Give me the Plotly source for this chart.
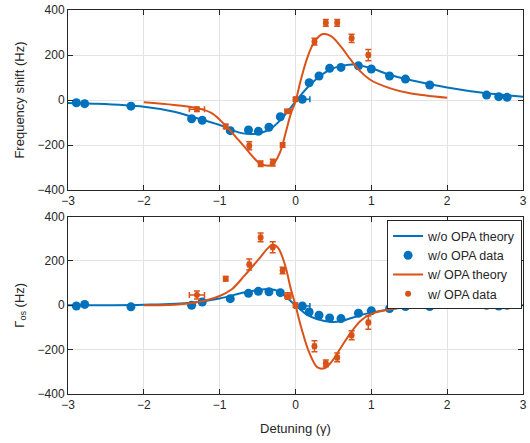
import plotly.graph_objects as go
from plotly.subplots import make_subplots

BLUE = "#0072BD"
ORANGE = "#D95319"

# ---- theory curves ----
th_wo_x = [-3, -2.67, -2, -1.6, -1.37, -1, -0.8, -0.69, -0.58, -0.45, -0.32, -0.19, -0.06, 0,
           0.07, 0.2, 0.34, 0.47, 0.64, 0.77, 1.0, 1.25, 1.51, 2.0, 2.52, 3.0]
th_wo_shift = [-13, -16, -30, -52, -74, -111, -138, -148, -151, -145, -126, -86, -33, -7,
               22, 70, 111, 138, 154, 158, 141, 111, 89, 56, 30, 15]

th_w_x = [-2, -1.6, -1.28, -1.1, -0.93, -0.75, -0.62, -0.49, -0.41, -0.30, -0.21, -0.12, -0.06, 0,
          0.07, 0.16, 0.25, 0.36, 0.47, 0.60, 0.73, 0.86, 0.99, 1.25, 1.51, 2.0]
th_w_shift = [-10, -22, -37, -59, -111, -178, -229, -277, -290, -286, -237, -133, -59, -7,
              89, 192, 259, 293, 284, 237, 178, 126, 89, 52, 30, 10]

th_wo_g_x = [-3, -2, -1.37, -1, -0.75, -0.58, -0.41, -0.27, -0.14, 0, 0.14, 0.29, 0.47, 0.60,
             0.82, 1.0, 1.25, 1.51, 2.0, 3.0]
th_wo_gamma = [0, 3, 12, 31, 52, 64, 72, 69, 42, 0, -40, -63, -75, -72,
               -48, -33, -18, -7, -3, 0]

th_w_g_x = [-2, -1.6, -1.28, -1, -0.84, -0.67, -0.49, -0.36, -0.30, -0.23, -0.14, -0.06, 0,
            0.07, 0.18, 0.29, 0.38, 0.47, 0.60, 0.73, 0.86, 0.99, 1.25, 1.51, 2.0]
th_w_gamma = [0, 3, 15, 42, 72, 135, 206, 259, 274, 259, 184, 72, 0,
              -93, -212, -280, -284, -257, -190, -123, -70, -40, -18, -6, 0]

# ---- w/o OPA data ----
wo_x = [-2.89, -2.78, -2.17, -1.37, -1.23, -0.86, -0.62, -0.49, -0.35, -0.20, 0.09, 0.18,
        0.31, 0.45, 0.60, 0.83, 1.00, 1.24, 1.45, 1.77, 2.52, 2.68, 2.79]
wo_xerr = [0.03, 0.03, 0.03, 0.03, 0.03, 0.03, 0.03, 0.03, 0.03, 0.03, 0.1, 0.03,
           0.03, 0.03, 0.03, 0.03, 0.03, 0.03, 0.03, 0.03, 0.03, 0.03, 0.03]
wo_shift = [-12, -16, -27, -83, -90, -136, -133, -139, -121, -74, 3, 77,
            107, 141, 145, 152, 138, 107, 93, 67, 22, 15, 12]
wo_shift_err = [8] * 23
wo_gamma = [-3, 4, -7, 0, 15, 30, 54, 63, 61, 57, -3, -30,
            -45, -57, -60, -36, -25, -15, -6, -6, 0, -3, 0]
wo_gamma_err = [8] * 23

# ---- w/ OPA data ----
w_x = [-1.30, -0.92, -0.61, -0.46, -0.30, -0.17, -0.10, 0.0, 0.25, 0.40, 0.55, 0.74, 0.96]
w_xerr = [0.1, 0.02, 0.02, 0.02, 0.02, 0.02, 0.04, 0.02, 0.02, 0.02, 0.02, 0.02, 0.02]
w_shift = [-41, -118, -203, -283, -278, -200, -50, 3, 259, 343, 343, 274, 200]
w_shift_err = [10, 10, 18, 12, 15, 10, 8, 8, 15, 15, 15, 18, 25]
w_gamma = [46, 120, 184, 306, 262, 157, 42, 0, -185, -262, -235, -135, -78]
w_gamma_err = [18, 10, 25, 20, 25, 15, 15, 10, 25, 15, 20, 20, 30]

xticks = [-3, -2, -1, 0, 1, 2, 3]
yticks = [-400, -200, 0, 200, 400]

fig = make_subplots(rows=2, cols=1, vertical_spacing=0.07)

def add_panel(row, wo_th_x, wo_th_y, w_th_x, w_th_y, wo_y, wo_yerr, w_y, w_yerr, show):
    fig.add_trace(go.Scatter(x=wo_th_x, y=wo_th_y, mode="lines", line=dict(color=BLUE, width=2, shape="spline"),
                             name="w/o OPA theory", showlegend=show, legendrank=1), row=row, col=1)
    fig.add_trace(go.Scatter(x=wo_x, y=wo_y, mode="markers",
                             marker=dict(color=BLUE, size=9, symbol="circle"),
                             error_x=dict(type="data", array=wo_xerr, color=BLUE, thickness=1.5, width=3),
                             error_y=dict(type="data", array=wo_yerr, color=BLUE, thickness=1.5, width=3),
                             name="w/o OPA data", showlegend=show, legendrank=2), row=row, col=1)
    fig.add_trace(go.Scatter(x=w_th_x, y=w_th_y, mode="lines", line=dict(color=ORANGE, width=2, shape="spline"),
                             name="w/ OPA theory", showlegend=show, legendrank=3), row=row, col=1)
    fig.add_trace(go.Scatter(x=w_x, y=w_y, mode="markers",
                             marker=dict(color=ORANGE, size=6, symbol="circle"),
                             error_x=dict(type="data", array=w_xerr, color=ORANGE, thickness=1.5, width=3),
                             error_y=dict(type="data", array=w_yerr, color=ORANGE, thickness=1.5, width=3),
                             name="w/ OPA data", showlegend=show, legendrank=4), row=row, col=1)

add_panel(1, th_wo_x, th_wo_shift, th_w_x, th_w_shift, wo_shift, wo_shift_err, w_shift, w_shift_err, False)
add_panel(2, th_wo_g_x, th_wo_gamma, th_w_g_x, th_w_gamma, wo_gamma, wo_gamma_err, w_gamma, w_gamma_err, True)

axis_common = dict(showline=True, linecolor="#262626", linewidth=1, mirror="ticks",
                   ticks="inside", ticklen=5, tickcolor="#262626",
                   showgrid=True, gridcolor="#e3e3e3", gridwidth=1, zeroline=False,
                   ticklabeloverflow="allow",
                   tickfont=dict(size=12, color="#262626"))

fig.update_xaxes(range=[-3, 3], tickvals=xticks, **axis_common)
fig.update_yaxes(range=[-400, 400], tickvals=yticks, **axis_common)
fig.update_xaxes(domain=[0, 1])
fig.update_yaxes(domain=[0.531, 1.0], row=1, col=1,
                 title=dict(text="Frequency shift (Hz)", font=dict(size=13, color="#262626"), standoff=10))
fig.update_yaxes(domain=[0.0, 0.462], row=2, col=1,
                 title=dict(text="Γ<sub>os</sub> (Hz)", font=dict(size=13, color="#262626"), standoff=10))
fig.update_xaxes(row=2, col=1, title=dict(text="Detuning (γ)", font=dict(size=13, color="#262626"), standoff=12))

fig.update_layout(
    width=530, height=443,
    margin=dict(l=68, r=3, t=10, b=49),
    paper_bgcolor="white", plot_bgcolor="white",
    font=dict(family="Liberation Sans, Arial, sans-serif", size=12, color="#262626"),
    legend=dict(x=0.998, xanchor="right", y=0.452, yanchor="top",
                bordercolor="#262626", borderwidth=1, bgcolor="white",
                font=dict(size=12.5), tracegroupgap=0, itemwidth=30),
)

fig.write_html("out.html", config={"displayModeBar": False},
               post_script="document.body.style.margin='0';document.body.style.padding='0';")
